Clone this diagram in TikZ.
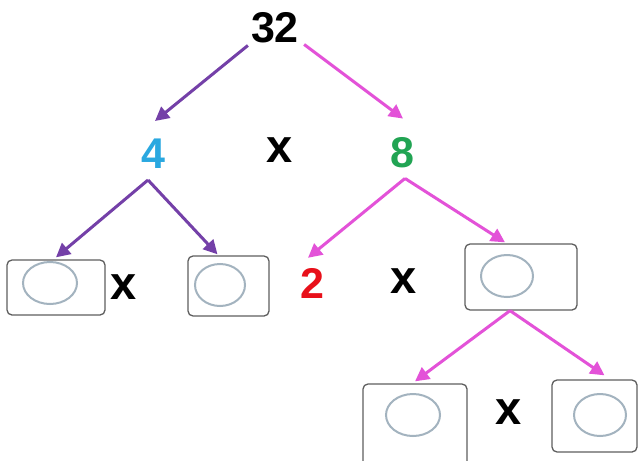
\documentclass[tikz,border=0pt]{standalone}
\usepackage{fontspec}
\setmainfont{Liberation Sans}
\usetikzlibrary{arrows.meta,shapes.geometric}
\definecolor{arrpurple}{HTML}{7440A8}
\definecolor{arrpink}{HTML}{E352D8}
\definecolor{numcyan}{HTML}{2AA8E0}
\definecolor{numgreen}{HTML}{21A453}
\definecolor{numred}{HTML}{E8101A}
\definecolor{boxgray}{HTML}{5E5E5E}
\definecolor{ovalgray}{HTML}{A3B3BF}
\tikzset{
  num/.style={font=\bfseries\fontsize{43}{43}\selectfont, inner sep=0pt},
  timesign/.style={font=\bfseries\fontsize{47}{47}\selectfont, inner sep=0pt},
  answerbox/.style={draw=boxgray, line width=1.3pt, rounded corners=5pt, fill=white, inner sep=0pt},
  oval/.style={draw=ovalgray, line width=2pt, ellipse, inner sep=0pt, minimum width=52pt, minimum height=42pt},
  arr/.style={line width=3pt, -{Triangle[length=14pt,width=14pt]}},
  parr/.style={arr, draw=arrpurple},
  karr/.style={arr, draw=arrpink},
}
\begin{document}
\begin{tikzpicture}[x=1pt,y=-1pt]
\useasboundingbox (0,0) rectangle (639,460);
\clip (0,0) rectangle (639,460);
\fill[white] (0,0) rectangle (639,460);
% numbers
\node[num] (n32) at (275,28) {32};
\node[num, text=numcyan] (n4) at (153,154) {4};
\node[num, text=numgreen] (n8) at (402,153) {8};
\node[num, text=numred] (n2) at (312,283) {2};
\node[timesign] (x1) at (280,150) {x};
\node[timesign] (x2) at (124,287) {x};
\node[timesign] (x3) at (404,281) {x};
\node[timesign] (x4) at (509,412) {x};
% boxes
\node[answerbox, minimum width=98pt, minimum height=55pt] (b1) at (56,287.5) {};
\node[answerbox, minimum width=81pt, minimum height=60pt] (b2) at (228.5,286) {};
\node[answerbox, minimum width=112pt, minimum height=66pt] (b3) at (521,277) {};
\node[answerbox, minimum width=104pt, minimum height=84pt] (b4) at (415,426) {};
\node[answerbox, minimum width=85pt, minimum height=72pt] (b5) at (594.5,416) {};
% ovals
\node[oval, minimum width=54pt] (o1) at (50,283) {};
\node[oval, minimum width=50pt] (o2) at (220,285) {};
\node[oval] (o3) at (507,276) {};
\node[oval, minimum width=54pt] (o4) at (413,415) {};
\node[oval] (o5) at (600,415) {};
% connectors
\draw[parr] ([xshift=-3pt,yshift=-2pt]n32.south west) -- ([xshift=2pt,yshift=18pt]n4.north);
\draw[karr] ([xshift=5pt,yshift=-1pt]n32.south east) -- ([xshift=1pt,yshift=19pt]n8.north);
\draw[parr] ([xshift=-5pt,yshift=-11pt]n4.south) -- ([yshift=2pt]b1.north);
\draw[parr] ([xshift=-5pt,yshift=-11pt]n4.south) -- ([xshift=-11pt,yshift=1pt]b2.north);
\draw[karr] ([xshift=3pt,yshift=-10pt]n8.south) -- ([xshift=-4pt,yshift=10pt]n2.north);
\draw[karr] ([xshift=3pt,yshift=-10pt]n8.south) -- ([xshift=-16pt,yshift=1pt]b3.north);
\draw[karr] ([xshift=-11pt]b3.south) -- ([xshift=0pt,yshift=2pt]b4.north);
\draw[karr] ([xshift=-11pt]b3.south) -- ([xshift=10pt,yshift=4pt]b5.north);
\end{tikzpicture}
\end{document}
